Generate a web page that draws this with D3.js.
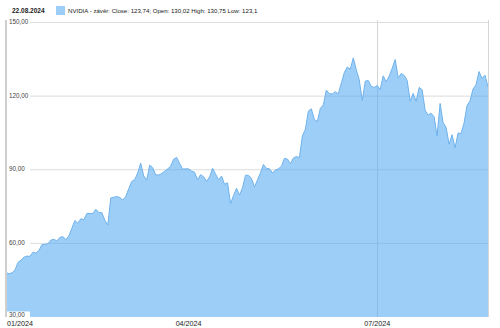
<!DOCTYPE html>
<html>
<head>
<meta charset="utf-8">
<script src="https://cdn.jsdelivr.net/npm/d3@7"></script>
<style>
  body { margin: 0; background: #fff; }
  svg { display: block; font-family: Arial, "Liberation Sans", sans-serif; }
</style>
</head>
<body>
<div id="chart"></div>
<script>
const W = 500, H = 328;
const margin = {top: 20, right: 12, bottom: 11, left: 6};

// NYSE closed days (besides weekends) in the shown period
const holidays = ["2024-01-15", "2024-02-19", "2024-03-29", "2024-05-27", "2024-06-19", "2024-07-04"];
const startDay = "2024-01-02", endDay = "2024-08-22";

// daily close
const closes = [
  48.17, 47.57, 48.00, 49.10, 52.25, 53.14, 54.35, 54.82, 54.71, 56.38, 56.05, 57.10, 59.49, 59.62, 59.84, 61.35, 61.64, 61.01, 62.43, 62.77, 61.53,
  63.03, 66.16, 69.30, 68.24, 70.01, 69.64, 72.13, 72.23, 72.13, 73.90, 72.63, 72.61, 69.43, 67.48, 78.51, 78.81, 79.07, 78.73, 77.67, 79.11,
  82.28, 85.22, 85.94, 88.70, 92.67, 87.51, 85.76, 91.91, 90.85, 87.94, 87.84, 88.45, 89.39, 90.36, 91.42, 94.29, 95.00, 92.55, 90.25, 90.36,
  90.36, 89.45, 88.96, 85.91, 88.00, 87.14, 85.35, 87.04, 90.62, 88.20, 85.94, 87.42, 84.07, 84.67, 76.20, 79.51, 82.42, 79.68, 82.64, 87.74, 87.73, 86.40,
  83.04, 85.82, 88.79, 92.14, 90.55, 90.41, 88.75, 89.87, 90.40, 91.36, 94.64, 94.36, 92.48, 94.78, 95.39, 94.95, 103.80, 106.47, 113.90, 114.83, 110.50, 109.63,
  115.00, 116.44, 122.44, 120.99, 120.89, 121.79, 120.91, 125.20, 129.61, 131.88, 130.98, 135.58, 130.78, 126.57, 118.11, 126.09, 126.40, 123.99, 123.54,
  124.30, 122.67, 128.28, 125.83, 128.20, 131.38, 134.91, 127.40, 129.24, 128.44, 126.36, 117.99, 121.09, 117.93, 123.54, 122.59, 114.25, 112.28, 113.06, 111.59, 103.73, 117.02,
  109.21, 107.27, 100.45, 104.25, 98.91, 104.97, 104.75, 109.02, 116.14, 118.08, 122.86, 124.58, 130.00, 127.25, 128.50, 123.74
];

const yTicks = [30, 60, 90, 120, 150];
const xTickMonths = ["2024-01", "2024-04", "2024-07"];
const gridMonths = ["2024-07"];
const headerDate = "22.08.2024";
const legendText = "NVIDIA - závěr: Close: 123,74; Open: 130,02 High: 130,75 Low: 123,1";

// trading days
const fmtISO = d3.utcFormat("%Y-%m-%d");
const fmtMonth = d3.utcFormat("%Y-%m");
const days = d3.utcDays(new Date(startDay), d3.utcDay.offset(new Date(endDay), 1))
  .filter(d => d.getUTCDay() % 6 !== 0 && !holidays.includes(fmtISO(d)));
const data = days.map((d, i) => ({date: d, value: closes[i]}));

const x = d3.scaleLinear().domain([0, data.length - 1]).range([margin.left, W - margin.right]);
const y = d3.scaleLinear().domain([30, 150]).range([H - margin.bottom, 22.5]);

const svg = d3.select("#chart").append("svg").attr("width", W).attr("height", H);

const firstIdx = m => data.findIndex(d => fmtMonth(d.date) === m);
const monthIdx = xTickMonths.map(firstIdx);

// grid
svg.append("g").selectAll("line").data(yTicks.slice(1)).join("line")
  .attr("x1", margin.left).attr("x2", W - margin.right)
  .attr("y1", d => y(d)).attr("y2", d => y(d))
  .attr("stroke", "#dcdcdc").attr("stroke-width", 1);

svg.append("g").selectAll("line").data(gridMonths.map(firstIdx)).join("line")
  .attr("x1", d => Math.round(x(d)) + 0.5).attr("x2", d => Math.round(x(d)) + 0.5)
  .attr("y1", 20).attr("y2", y(30))
  .attr("stroke", "#d6d6d6");

// area
const area = d3.area().x((d, i) => x(i)).y0(y(30)).y1(d => y(d.value));
const line = d3.line().x((d, i) => x(i)).y(d => y(d.value));
svg.append("path").datum(data).attr("d", area).attr("fill", "#4da6f0").attr("fill-opacity", 0.55);
svg.append("path").datum(data).attr("d", line).attr("fill", "none").attr("stroke", "#6fb2ec").attr("stroke-width", 1);

// frame lines
svg.append("line").attr("x1", W - margin.right + 0.5).attr("x2", W - margin.right + 0.5)
  .attr("y1", 20).attr("y2", y(30)).attr("stroke", "#d6d6d6");
svg.append("line").attr("x1", margin.left).attr("x2", margin.left)
  .attr("y1", 20).attr("y2", y(30)).attr("stroke", "#cfcfcf").attr("stroke-width", 2);

// y labels with white box
const yl = svg.append("g").selectAll("g").data(yTicks).join("g")
  .attr("transform", d => `translate(${margin.left + 3},${y(d) - (d === 30 ? 2 : 0.7)})`);
yl.append("rect").attr("x", -2).attr("y", -3.5).attr("width", 23).attr("height", 7).attr("fill", "#fff");
yl.append("text").attr("dy", "0.35em").attr("font-size", 6.3).attr("fill", "#444")
  .text(d => d3.format(".2f")(d).replace(".", ","));

// x labels
svg.append("g").selectAll("text").data(monthIdx).join("text")
  .attr("x", (d, i) => i === 0 ? margin.left + 1 : x(d))
  .attr("y", H - 2)
  .attr("text-anchor", (d, i) => i === 0 ? "start" : "middle")
  .attr("font-size", 7.2).attr("fill", "#222")
  .text(d => d3.utcFormat("%m/%Y")(data[d].date));

// header / legend
svg.append("text").attr("x", 12).attr("y", 12.5).attr("font-size", 6.5).attr("font-weight", "bold")
  .attr("fill", "#222").text(headerDate);
svg.append("rect").attr("x", 56).attr("y", 6).attr("width", 9).attr("height", 9).attr("fill", "#9dcef7");
svg.append("text").attr("x", 68).attr("y", 12.5).attr("font-size", 6.1).attr("fill", "#222").text(legendText);
</script>
</body>
</html>
